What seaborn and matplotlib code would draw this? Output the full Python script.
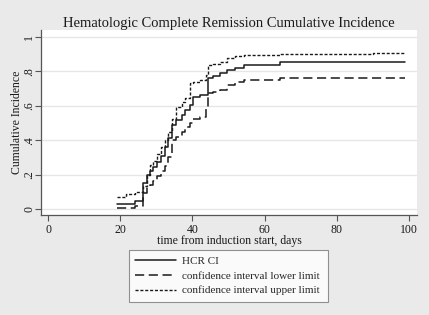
import matplotlib
matplotlib.use("Agg")
import matplotlib.pyplot as plt
import seaborn as sns
import pandas as pd

# ---- data ----
times = [19, 21.5, 24, 26.2, 27.3, 28.2, 29.1, 30.2, 31.4, 32.4, 33.3, 34.2, 35.4,
         37, 37.9, 39.3, 40.2, 42.1, 43.9, 44.2, 45.8, 47.6, 49.5, 51.8, 54.4,
         64.3, 90, 99]
hcr_ci = [0.030, 0.030, 0.048, 0.150, 0.195, 0.220, 0.245, 0.275, 0.310, 0.360, 0.410,
          0.490, 0.515, 0.545, 0.575, 0.605, 0.650, 0.663, 0.663, 0.760, 0.773,
          0.789, 0.808, 0.822, 0.837, 0.852, 0.852, 0.852]
ci_lower = [0.008, 0.008, 0.017, 0.090, 0.120, 0.140, 0.160, 0.190, 0.220, 0.250, 0.300,
            0.400, 0.420, 0.450, 0.475, 0.500, 0.520, 0.537, 0.585, 0.673, 0.680,
            0.690, 0.720, 0.740, 0.750, 0.760, 0.760, 0.760]
ci_upper = [0.072, 0.088, 0.100, 0.135, 0.200, 0.256, 0.280, 0.320, 0.360, 0.400, 0.450,
            0.520, 0.595, 0.624, 0.645, 0.730, 0.740, 0.750, 0.779, 0.837, 0.845,
            0.856, 0.876, 0.890, 0.895, 0.900, 0.909, 0.909]
series_labels = ["HCR CI", "confidence interval lower limit",
                 "confidence interval upper limit"]
x_ticks = [0, 20, 40, 60, 80, 100]
y_ticks = [0, 0.2, 0.4, 0.6, 0.8, 1.0]
y_tick_labels = ["0", ".2", ".4", ".6", ".8", "1"]

title = "Hematologic Complete Remission Cumulative Incidence"
x_label = "time from induction start, days"
y_label = "Cumulative Incidence"

# ---- style ----
sns.set_style("white")
plt.rcParams["font.family"] = ["Liberation Serif", "DejaVu Serif"]
bg = "#eaeaea"
ink = "#1a1a1a"

W, H = 429, 315
fig = plt.figure(figsize=(W / 100, H / 100), dpi=100, facecolor=bg)
ax = fig.add_axes([41 / W, 1 - 215 / H, (417 - 41) / W, (215 - 30) / H])
ax.set_facecolor("white")

df = pd.DataFrame({"time": times, "hcr": hcr_ci, "lo": ci_lower, "hi": ci_upper})
styles = [
    ("hcr", dict(linestyle="-", linewidth=1.1)),
    ("lo", dict(linestyle=(0, (6, 3)), linewidth=1.1)),
    ("hi", dict(linestyle=(0, (2.2, 1.3)), linewidth=1.0)),
]
for (col, st), lab in zip(styles, series_labels):
    sns.lineplot(data=df, x="time", y=col, ax=ax, estimator=None, sort=False,
                 drawstyle="steps-post", color=ink, label=lab, **st)

ax.set_xlim(-2, 102.3)
ax.set_ylim(-0.035, 1.04)
ax.set_xticks(x_ticks)
ax.set_xticklabels([str(t) for t in x_ticks])
ax.set_yticks(y_ticks)
ax.set_yticklabels(y_tick_labels, rotation=90, va="center")
ax.grid(axis="y", color="#e6e6e6", linewidth=1.0)
ax.grid(axis="x", visible=False)
ax.set_axisbelow(True)
for s in ["top", "right"]:
    ax.spines[s].set_visible(False)
for s in ["left", "bottom"]:
    ax.spines[s].set_color("#555555")
    ax.spines[s].set_linewidth(0.9)
ax.tick_params(axis="both", direction="out", length=4.5, width=0.8, color="#555555",
               labelsize=8.5, labelcolor=ink, left=True, bottom=True)
ax.tick_params(axis="y", pad=-0.5)
ax.tick_params(axis="x", pad=2)

ax.set_xlabel(x_label, fontsize=8.5, color=ink, labelpad=-1)
ax.set_ylabel(y_label, fontsize=8.5, color=ink, labelpad=0)
ax.set_title(title, fontsize=10.5, color=ink, pad=2)

ax.get_legend().remove()
handles, labels = ax.get_legend_handles_labels()
leg = fig.legend(handles, labels, loc="upper left",
                 bbox_to_anchor=(129 / W, 1 - 299 / H, (328 - 129) / W, 49 / H),
                 mode="expand", ncol=1, fontsize=8, frameon=True, fancybox=False,
                 handlelength=3.7, handletextpad=0.5, borderpad=0.55,
                 labelspacing=0.45, borderaxespad=0)
leg.get_frame().set_edgecolor("#777777")
leg.get_frame().set_linewidth(0.8)
leg.get_frame().set_facecolor("white")

fig.savefig("out.png", dpi=100, facecolor=bg)
